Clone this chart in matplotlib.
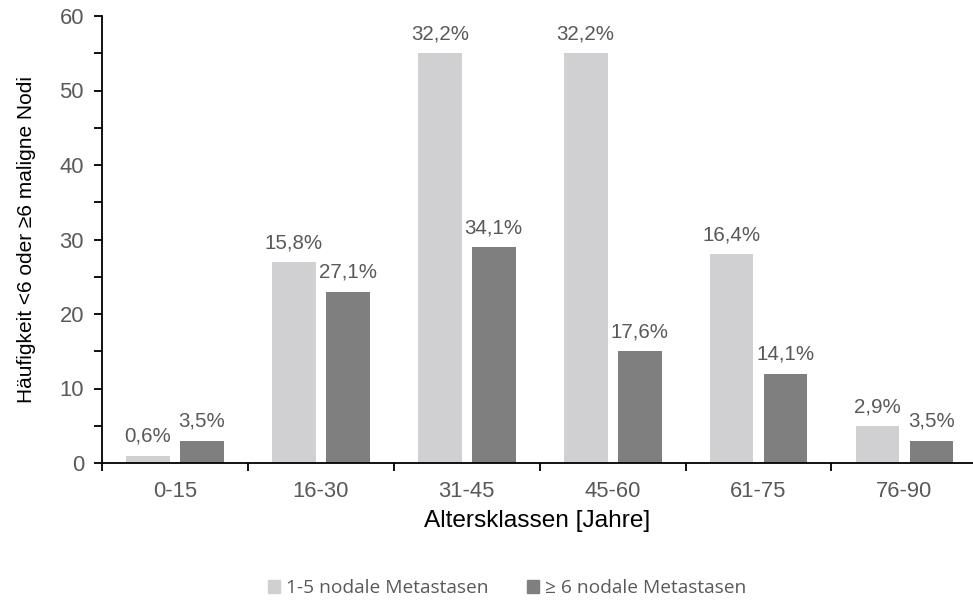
import numpy as np
import matplotlib.pyplot as plt
from matplotlib.ticker import MultipleLocator
from matplotlib.patches import Patch

plt.rcParams['font.family'] = ['Liberation Sans', 'DejaVu Sans']

altersklassen = ["0-15", "16-30", "31-45", "45-60", "61-75", "76-90"]
n_wenig = np.array([1, 27, 55, 55, 28, 5])      # 1-5 nodale Metastasen
n_viel = np.array([3, 23, 29, 15, 12, 3])       # >= 6 nodale Metastasen
pct_wenig = ["0,6%", "15,8%", "32,2%", "32,2%", "16,4%", "2,9%"]
pct_viel = ["3,5%", "27,1%", "34,1%", "17,6%", "14,1%", "3,5%"]

hell = "#d0d0d2"
dunkel = "#7f7f7f"
grau = "#595959"

fig = plt.figure(figsize=(9.73, 6.01), dpi=100)
ax = fig.add_axes([102 / 973, 138 / 601, 1 - 102 / 973, 447 / 601])

x = np.arange(len(altersklassen))
w = 0.3
b1 = ax.bar(x - 0.185, n_wenig, w, color=hell)
b2 = ax.bar(x + 0.185, n_viel, w, color=dunkel)

for bars, labels in ((b1, pct_wenig), (b2, pct_viel)):
    for rect, lab in zip(bars, labels):
        ax.annotate(lab, (rect.get_x() + rect.get_width() / 2, rect.get_height()),
                    xytext=(0, 7), textcoords="offset points",
                    ha="center", va="bottom", fontsize=14.8, color=grau)

ax.set_xlim(-0.5, 5.47)
ax.set_ylim(0, 60)
ax.yaxis.set_major_locator(MultipleLocator(10))
ax.yaxis.set_minor_locator(MultipleLocator(5))

# category labels centred, tick marks on the boundaries
ax.set_xticks(x)
ax.set_xticklabels(altersklassen)
ax.set_xticks(np.arange(-0.5, 5.5, 1), minor=True)
ax.tick_params(axis="x", which="major", length=0, pad=13, labelsize=15.8, labelcolor=grau)
ax.tick_params(axis="x", which="minor", length=6, width=1.3, direction="out")
ax.tick_params(axis="y", which="major", length=6, width=1.3, labelsize=15.8, labelcolor=grau, pad=7)
ax.tick_params(axis="y", which="minor", length=6, width=1.3)

for s in ("top", "right"):
    ax.spines[s].set_visible(False)
for s in ("left", "bottom"):
    ax.spines[s].set_linewidth(1.3)

ax.set_xlabel("Altersklassen [Jahre]", fontsize=17.6, labelpad=6)
ax.set_ylabel("Häufigkeit <6 oder ≥6 maligne Nodi", fontsize=15)
ax.yaxis.set_label_coords(-0.076, 0.5)

handles = [Patch(color=hell), Patch(color=dunkel)]
fig.legend(handles, ["1-5 nodale Metastasen", "≥ 6 nodale Metastasen"],
           loc="center", bbox_to_anchor=(507 / 973, 1 - 588 / 601), ncol=2, frameon=False,
           handlelength=0.63, handleheight=0.63, handletextpad=0.31, columnspacing=2.0,
           prop={"family": ["Open Sans", "DejaVu Sans"], "size": 13.8},
           labelcolor=grau)

fig.savefig("out.png", dpi=100)
